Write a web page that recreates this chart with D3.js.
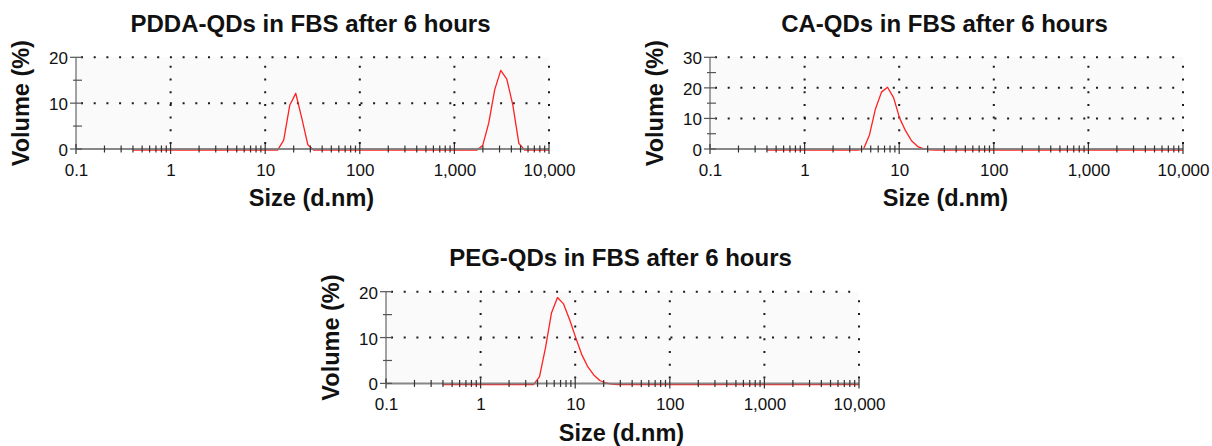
<!DOCTYPE html>
<html>
<head>
<meta charset="utf-8">
<script src="https://cdn.jsdelivr.net/npm/d3@7"></script>
<style>
  html, body { margin: 0; padding: 0; background: #ffffff; }
  svg { display: block; }
  text { font-family: "Liberation Sans", Arial, sans-serif; fill: #111; }
</style>
</head>
<body>
<svg id="chart" width="1212" height="446"></svg>
<script>
// ---------- data ----------
const xTickValues = [0.1, 1, 10, 100, 1000, 10000];
const xTickLabels = ["0.1", "1", "10", "100", "1,000", "10,000"];

const titlePDDA = "PDDA-QDs in FBS after 6 hours";
const sizesPDDA = [0.4, 13.54, 15.69, 18.17, 21.04, 24.36, 28.21, 32.67, 1718, 1990, 2305, 2669, 3091, 3580, 4145, 4801, 5560, 10000];
const volPDDA   = [0,   0,     2.2,   9.8,   12.4,  7.0,   1.2,   0,     0,    1.0,  5.9,  13.2, 17.4, 15.5, 9.9,  1.5,  0,    0];
const yTicksPDDA = [0, 10, 20];
const yMinorPDDA = [5, 15];

const titleCA = "CA-QDs in FBS after 6 hours";
const sizesCA = [0.4, 3.62, 4.19, 4.85, 5.61, 6.50, 7.53, 8.72, 10.1, 11.7, 13.5, 15.7, 18.2, 21.0, 24.4, 10000];
const volCA   = [0,   0,    0.3,  5.0,  13.5, 19.0, 20.6, 17.2, 10.5, 6.3,  3.1,  1.2,  0.4,  0.1,  0,    0];
const yTicksCA = [0, 10, 20, 30];
const yMinorCA = [5, 15, 25];

const titlePEG = "PEG-QDs in FBS after 6 hours";
const sizesPEG = [0.4, 3.62, 4.19, 4.85, 5.61, 6.50, 7.53, 8.72, 10.1, 11.7, 13.5, 15.7, 18.2, 21.0, 24.4, 28.2, 10000];
const volPEG   = [0,   0,    1.7,  8.0,  15.6, 19.0, 17.6, 14.2, 10.3, 6.6,  4.0,  2.1,  0.9,  0.35, 0.1,  0,    0];
const yTicksPEG = [0, 10, 20];
const yMinorPEG = [5, 15];

const xLabel = "Size (d.nm)";
const yLabel = "Volume (%)";

// ---------- layout ----------
const panels = [
  { left: 76,  top: 57.3,  title: titlePDDA, sizes: sizesPDDA, vols: volPDDA, yTicks: yTicksPDDA, yMinor: yMinorPDDA },
  { left: 710, top: 57.3,  title: titleCA,   sizes: sizesCA,   vols: volCA,   yTicks: yTicksCA,   yMinor: yMinorCA },
  { left: 386, top: 291.7, title: titlePEG,  sizes: sizesPEG,  vols: volPEG,  yTicks: yTicksPEG,  yMinor: yMinorPEG }
];
const W = 473, H = 91.7;

const svg = d3.select("#chart");

// minor log ticks
const minorX = [];
for (let d = 0.1; d < 10000; d *= 10) {
  for (let k = 2; k <= 9; k++) minorX.push(+(d * k).toPrecision(3));
}

panels.forEach(p => {
  const g = svg.append("g").attr("transform", `translate(${p.left},${p.top})`);
  const x = d3.scaleLog().domain([0.1, 10000]).range([0, W]);
  const yMax = d3.max(p.yTicks);
  const y = d3.scaleLinear().domain([0, yMax]).range([H, 0]);

  // background
  g.append("rect").attr("x", 0).attr("y", 0).attr("width", W).attr("height", H).attr("fill", "#fafafa");

  // dotted grid
  const grid = g.append("g").attr("stroke", "#1a1a1a").attr("stroke-width", 2).attr("stroke-dasharray", "2,10.7");
  p.yTicks.filter(v => v > 0).forEach(v => {
    grid.append("line").attr("x1", 0).attr("x2", W).attr("y1", y(v)).attr("y2", y(v))
      .attr("stroke-dashoffset", -5);
  });
  xTickValues.filter(v => v > 0.1).forEach(v => {
    grid.append("line").attr("x1", x(v)).attr("x2", x(v)).attr("y1", H).attr("y2", 0)
      .attr("stroke-dashoffset", -5);
  });

  // curve
  const line = d3.line().x((d, i) => x(p.sizes[i])).y(d => y(d));
  g.append("path").datum(p.vols)
    .attr("d", line)
    .attr("transform", "translate(0,1.2)")
    .attr("fill", "none")
    .attr("stroke", "#ff2020")
    .attr("stroke-width", 1.3)
    .attr("stroke-linejoin", "round");

  // x axis line
  g.append("line").attr("x1", 0).attr("x2", W).attr("y1", H).attr("y2", H)
    .attr("stroke", "#7a7a7a").attr("stroke-width", 2).attr("stroke-opacity", 0.9);
  // y axis line
  g.append("line").attr("x1", 0).attr("x2", 0).attr("y1", 0).attr("y2", H)
    .attr("stroke", "#666").attr("stroke-width", 1.2);

  // x ticks
  const tk = g.append("g").attr("stroke", "#333").attr("stroke-width", 1.2);
  minorX.forEach(v => {
    tk.append("line").attr("x1", x(v)).attr("x2", x(v)).attr("y1", H - 3.5).attr("y2", H + 3.5);
  });
  xTickValues.forEach(v => {
    tk.append("line").attr("x1", x(v)).attr("x2", x(v)).attr("y1", H - 5).attr("y2", H + 5);
  });
  // y ticks
  p.yTicks.forEach(v => {
    tk.append("line").attr("x1", -6).attr("x2", 6).attr("y1", y(v)).attr("y2", y(v)).attr("stroke", "#555");
  });
  p.yMinor.forEach(v => {
    tk.append("line").attr("x1", -3).attr("x2", 6).attr("y1", y(v)).attr("y2", y(v)).attr("stroke", "#555");
  });

  // x tick labels
  const xa = d3.axisBottom(x).tickValues(xTickValues)
    .tickFormat((d, i) => xTickLabels[i]).tickSize(0).tickPadding(0);
  const xg = g.append("g").attr("transform", `translate(0,${H})`).call(xa);
  xg.select(".domain").remove();
  xg.selectAll("text").attr("font-size", 17).attr("font-family", "Liberation Sans, Arial, sans-serif")
    .attr("fill", "#111").attr("dy", 0).attr("y", 27);

  // y tick labels
  const ya = d3.axisLeft(y).tickValues(p.yTicks).tickSize(0).tickPadding(8);
  const yg = g.append("g").call(ya);
  yg.select(".domain").remove();
  yg.selectAll("text").attr("font-size", 17).attr("font-family", "Liberation Sans, Arial, sans-serif")
    .attr("fill", "#111").attr("dy", "0.38em");

  // title
  g.append("text").attr("x", W / 2 - 2).attr("y", -25.5)
    .attr("text-anchor", "middle").attr("font-size", 24).attr("font-weight", "bold")
    .text(p.title);

  // x label
  g.append("text").attr("x", W / 2 - 1).attr("y", H + 57.5)
    .attr("text-anchor", "middle").attr("font-size", 23.5).attr("font-weight", "bold")
    .text(xLabel);

  // y label
  g.append("text").attr("transform", `translate(-47,${H / 2}) rotate(-90)`)
    .attr("text-anchor", "middle").attr("font-size", 23.5).attr("font-weight", "bold")
    .text(yLabel);
});
</script>
</body>
</html>
